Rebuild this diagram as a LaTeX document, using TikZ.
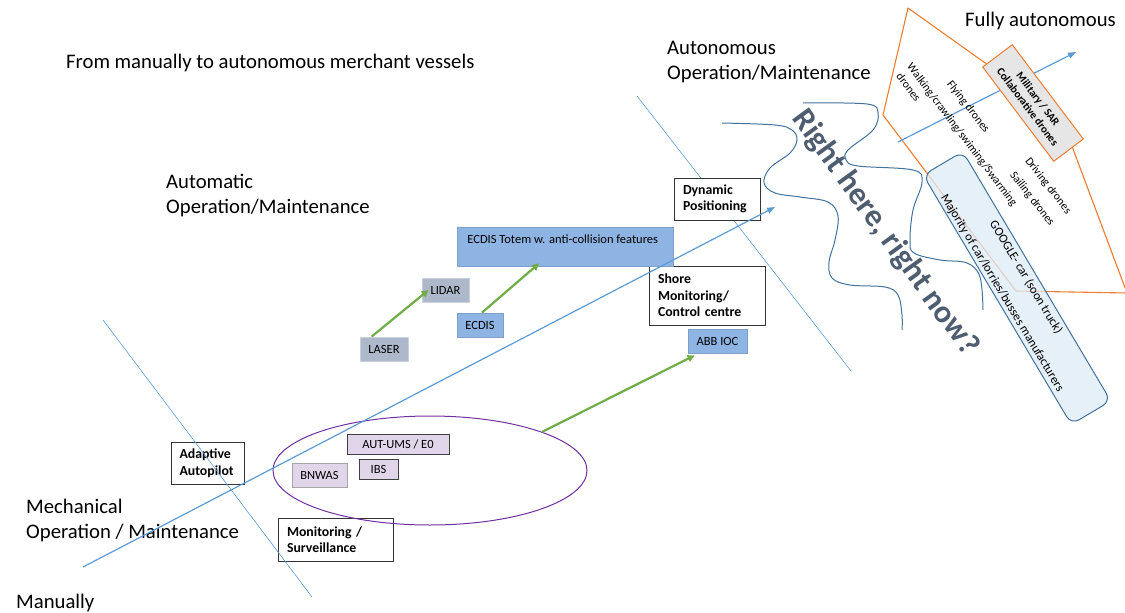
\documentclass[tikz,border=0pt]{standalone}
\usepackage{fontspec}
\setmainfont{Carlito}
\usetikzlibrary{arrows.meta,shapes.geometric}
\definecolor{oblue}{HTML}{5B9BD5}
\definecolor{dblue}{HTML}{41719C}
\definecolor{oorange}{HTML}{ED7D31}
\definecolor{ogreen}{HTML}{70AD47}
\definecolor{opurple}{HTML}{7030A0}
\definecolor{ecdisfill}{HTML}{8EB4E3}
\definecolor{ecdisdraw}{HTML}{7F9FC9}
\definecolor{grayfill}{HTML}{ADB9CA}
\definecolor{graydraw}{HTML}{C9D1DC}
\definecolor{lavfill}{HTML}{E1D5EA}
\definecolor{milfill}{HTML}{E7E6E6}
\definecolor{carfill}{HTML}{DEEBF7}
\definecolor{rhtext}{HTML}{4F5D70}
\begin{document}
\begin{tikzpicture}[x=1pt,y=-1pt,
  big/.style={font=\fontsize{20.7}{25}\selectfont, inner sep=0pt, anchor=base west},
  wbox/.style={draw=black!80, fill=white, line width=0.9pt, font=\bfseries\fontsize{13.8}{16.5}\selectfont, align=left, inner xsep=9pt, inner ysep=0pt},
  fbox/.style={line width=0.8pt, font=\fontsize{12.5}{15}\selectfont, inner sep=0pt},
  thinline/.style={draw=oblue, line width=0.6pt},
  bluearrow/.style={draw=oblue, line width=1.2pt, -{Triangle[length=8pt,width=6pt]}},
  greenarrow/.style={draw=ogreen, line width=2.2pt, -{Triangle[length=7pt,width=7pt]}},
  wavy/.style={draw=dblue, line width=1pt},
  drone/.style={font=\fontsize{11.5}{14}\selectfont, inner sep=0pt}
]
\useasboundingbox (0,0) rectangle (1125,613);

% coordinates of free lines
\coordinate (t1a) at (103,320); \coordinate (t1b) at (312,597);
\coordinate (t2a) at (637,96);  \coordinate (t2b) at (851,371);
\coordinate (a1s) at (83,567);  \coordinate (a1e) at (775,207);
\coordinate (a2s) at (898,142); \coordinate (a2e) at (1076,52);

% thin line under Dynamic Positioning
\draw[thinline] (t2a) -- (t2b);

% orange region
\coordinate (p1) at (908,8); \coordinate (p2) at (1061,117); \coordinate (p3) at (1127,293);
\coordinate (p4) at (1016,291); \coordinate (p5) at (883,115);
\draw[oorange, line width=1.1pt, line join=round] (p1) -- (p2) -- (p3) -- (p4) -- (p5) -- cycle;

% wavy curves
\draw[wavy] plot[smooth, tension=0.6] coordinates {(722,123) (775,125) (792,130) (797,140) (790,153) (770,168) (764,183) (775,193) (800,197) (828,202) (838,216) (835,240) (829,262) (832,278) (850,285) (885,287) (898,295) (902,315) (902,330)};
\draw[wavy] plot[smooth, tension=0.6] coordinates {(803,103) (867,104) (878,113) (873,130) (848,150) (846,160) (858,166) (913,170) (922,182) (913,210) (910,240) (914,253) (940,260) (967,263) (980,277) (983,310)};

% arrow in the drone region
\draw[bluearrow] (a2s) -- (a2e);

% drone texts
\node[drone, rotate=-52] (fly) at (968,107) {Flying drones};
\node[drone, rotate=-53, anchor=west] (walk1) at (909,65) {Walking/crawling/swiming/Swarming};
\node[drone, rotate=-53, anchor=west] (walk2) at (899,74) {drones};
\node[drone, rotate=-52] (drive) at (1048,186) {Driving drones};
\node[drone, rotate=-52] (sail) at (1032,199) {Sailing drones};

% military box
\node[draw=oorange, fill=milfill, line width=1pt, rotate=-53, minimum width=118pt, minimum height=37pt, inner sep=0pt, align=center, font=\bfseries\fontsize{11}{13}\selectfont] (mil) at (1033,103) {Military / SAR\\Collaborative drones};

% car box
\node[draw=dblue, fill=carfill, fill opacity=0.75, line width=1pt, rotate=-59.3, minimum width=290pt, minimum height=46pt, rounded corners=9pt] (car) at (1017,288) {};
\node[drone, font=\fontsize{12.5}{15}\selectfont, rotate=-59] (google) at (1026,277) {GOOGLE- car (soon truck)};
\node[drone, font=\fontsize{12.5}{15}\selectfont, rotate=-59] (major) at (1002,293) {Majority of car/lorries/busses manufacturers};

% big text
\node[rotate=-54, text=rhtext, font=\bfseries\fontsize{32}{36}\selectfont, inner sep=0pt] (rh) at (885,233) {Right here, right now?};

% labels
\node[big] (l1) at (66,68) {From manually to autonomous merchant vessels};
\node[big] (l2a) at (667,54) {Autonomous};
\node[big] (l2b) at (667,79) {Operation/Maintenance};
\node[big] (l3) at (965,27) {Fully autonomous};
\node[big] (l4a) at (166,188) {Automatic};
\node[big] (l4b) at (166,213) {Operation/Maintenance};
\node[big] (l5a) at (26,513) {Mechanical};
\node[big] (l5b) at (26,538) {Operation / Maintenance};
\node[big] (l6) at (16,608) {Manually};

% white boxes
\node[wbox, text width=98pt, minimum height=59pt] (shore) at (707,295.5) {Shore\\Monitoring/\\Control centre};
\node[fbox, draw=ecdisdraw, fill=ecdisfill, minimum width=216pt, minimum height=39pt] (totem) at (565,246.5) {};
\node[fbox, anchor=west] (totemtxt) at (467,239) {ECDIS Totem w. anti-collision features};
\node[wbox, text width=68pt, minimum height=42pt] (dp) at (717,199) {Dynamic\\Positioning};
\node[wbox, text width=56pt, inner xsep=8.5pt, minimum height=42pt] (aa) at (207.5,463) {Adaptive\\Autopilot};
\node[wbox, text width=97pt, minimum height=43pt] (ms) at (335.5,539.5) {Monitoring /\\Surveillance};

% filled boxes
\node[fbox, draw=graydraw, fill=grayfill, minimum width=47pt, minimum height=24pt] (lidar) at (445.5,290) {LIDAR};
\node[fbox, draw=graydraw, fill=grayfill, minimum width=48pt, minimum height=24pt] (laser) at (384,349) {LASER};
\node[fbox, draw=ecdisdraw, fill=ecdisfill, minimum width=46pt, minimum height=24pt] (ecdis) at (480,325) {ECDIS};
\node[fbox, draw=ecdisdraw, fill=ecdisfill, minimum width=59pt, minimum height=24pt] (abb) at (717.5,341) {ABB IOC};
\node[fbox, draw=black!75, fill=lavfill, minimum width=102pt, minimum height=20pt] (aut) at (398,444) {AUT-UMS / E0};
\node[fbox, draw=black!75, fill=lavfill, minimum width=39pt, minimum height=20pt] (ibs) at (378.5,469) {IBS};
\node[fbox, draw=black!35, fill=lavfill, minimum width=55pt, minimum height=24pt] (bnwas) at (319.5,475) {BNWAS};

% ellipse
\node[ellipse, draw=opurple, line width=1pt, minimum width=314pt, minimum height=109pt, inner sep=0pt] (ell) at (430,470.5) {};

% lines on top
\draw[bluearrow] (a1s) -- (a1e);
\draw[thinline] (t1a) -- (t1b);

% green arrows
\draw[greenarrow] ([xshift=12pt]laser.north west) -- ([xshift=7pt]lidar.west);
\draw[greenarrow] ([xshift=2pt]ecdis.north) -- ([xshift=-26pt,yshift=3pt]totem.south);
\draw[greenarrow] (ell.19) -- ([xshift=7pt,yshift=-2pt]abb.south west);
\end{tikzpicture}
\end{document}
